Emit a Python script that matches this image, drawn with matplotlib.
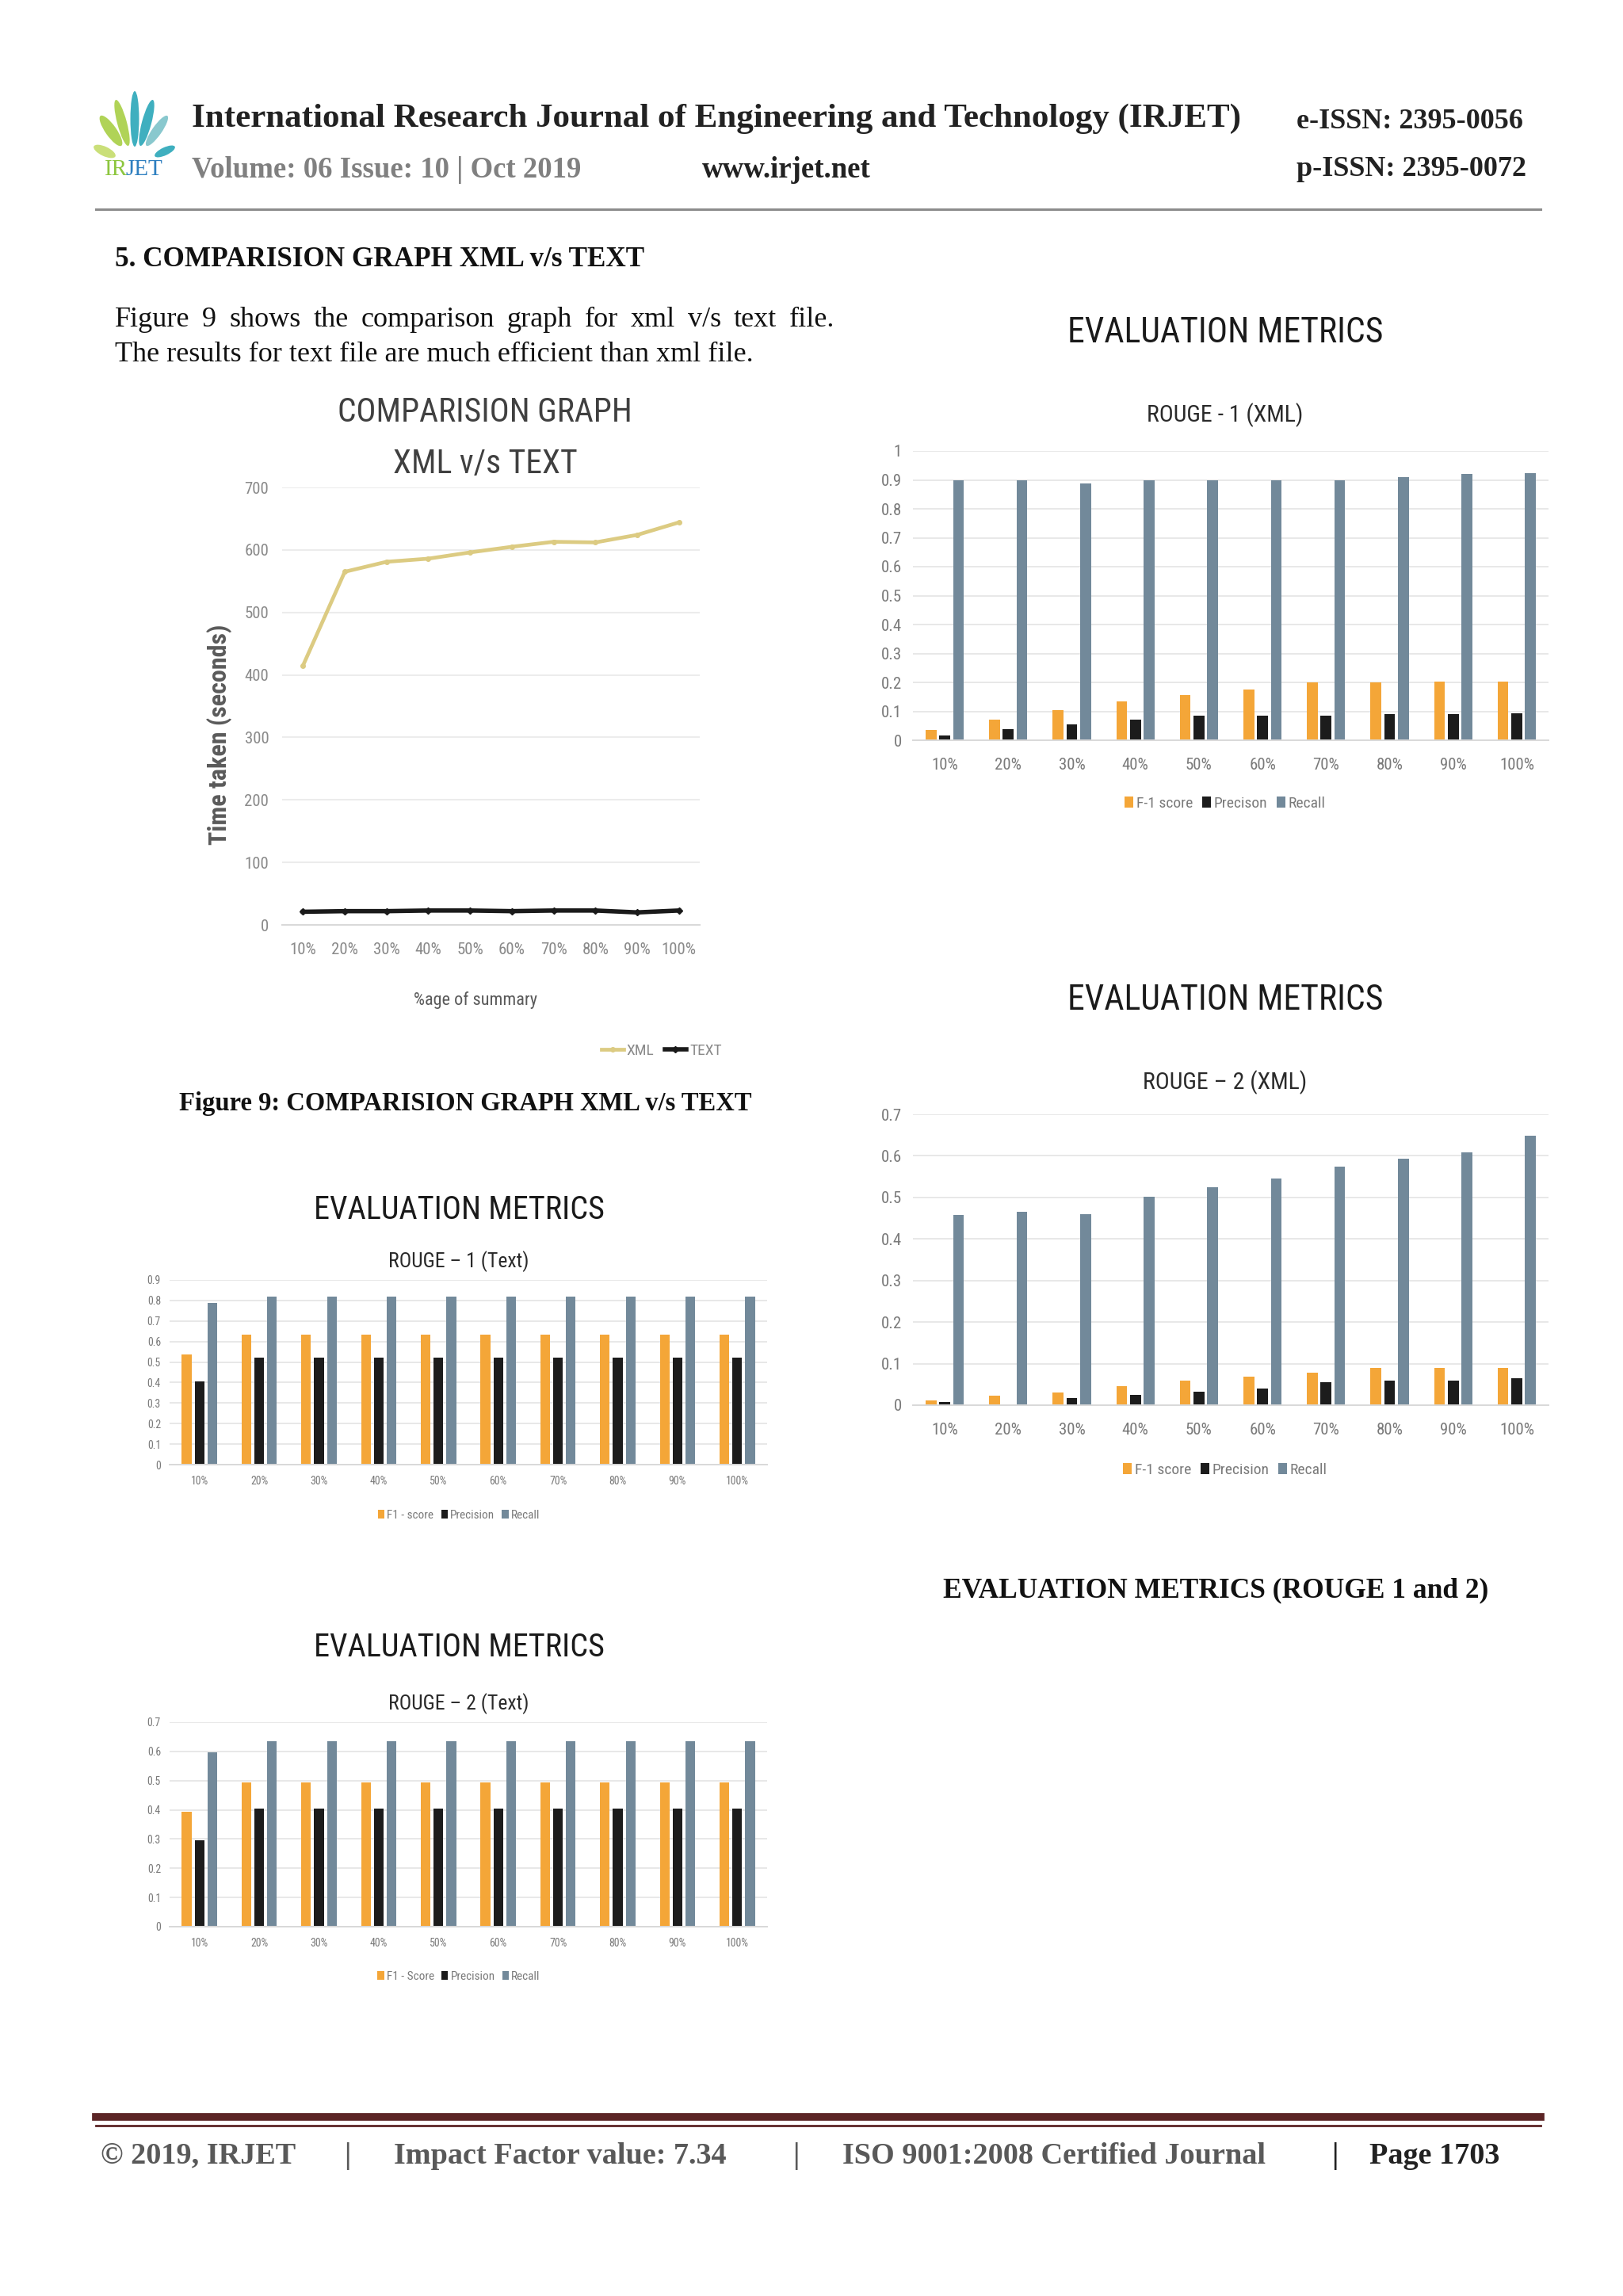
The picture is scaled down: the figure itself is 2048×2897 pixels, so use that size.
import matplotlib
matplotlib.use('Agg')
import numpy as np
import matplotlib.pyplot as plt
from matplotlib import font_manager
from matplotlib.patches import Ellipse

W, H = 2048, 2897

# ---- data ----
categories = ['10%', '20%', '30%', '40%', '50%', '60%', '70%', '80%', '90%', '100%']

# comparison graph (time taken, seconds)
xml_time = [415, 565, 581, 586, 596, 605, 613, 612, 624, 644]
text_time = [21, 22, 22, 23, 23, 22, 23, 23, 20, 23]

# ROUGE-1 (XML)
r1_xml_f1 = [0.035, 0.072, 0.104, 0.134, 0.155, 0.175, 0.199, 0.199, 0.202, 0.202]
r1_xml_prec = [0.017, 0.038, 0.054, 0.071, 0.084, 0.085, 0.085, 0.091, 0.091, 0.093]
r1_xml_rec = [0.898, 0.898, 0.887, 0.898, 0.898, 0.900, 0.900, 0.910, 0.920, 0.924]

# ROUGE-2 (XML)
r2_xml_f1 = [0.012, 0.022, 0.031, 0.046, 0.059, 0.069, 0.078, 0.089, 0.090, 0.090]
r2_xml_prec = [0.007, 0.0, 0.017, 0.025, 0.032, 0.040, 0.055, 0.059, 0.059, 0.065]
r2_xml_rec = [0.458, 0.465, 0.460, 0.501, 0.525, 0.545, 0.575, 0.593, 0.608, 0.649]

# ROUGE-1 (Text)
r1_txt_f1 = [0.536, 0.634, 0.634, 0.634, 0.634, 0.634, 0.634, 0.634, 0.634, 0.634]
r1_txt_prec = [0.404, 0.52, 0.52, 0.52, 0.52, 0.52, 0.52, 0.52, 0.52, 0.52]
r1_txt_rec = [0.787, 0.82, 0.82, 0.82, 0.82, 0.82, 0.82, 0.82, 0.82, 0.82]

# ROUGE-2 (Text)
r2_txt_f1 = [0.394, 0.493, 0.493, 0.493, 0.493, 0.493, 0.493, 0.493, 0.493, 0.493]
r2_txt_prec = [0.295, 0.403, 0.403, 0.403, 0.403, 0.403, 0.403, 0.403, 0.403, 0.403]
r2_txt_rec = [0.597, 0.635, 0.635, 0.635, 0.635, 0.635, 0.635, 0.635, 0.635, 0.635]

ORANGE = '#f4a638'
BLACK = '#1c1c1c'
STEEL = '#72899a'

# ---- fonts ----
names = set(font_manager.get_font_names())
NARROW = 'DejaVu Sans'
for cand in ['Liberation Sans Narrow', 'Roboto Condensed', 'Open Sans Condensed']:
    if cand in names:
        NARROW = cand
        break
STRETCH = 'condensed' if NARROW == 'DejaVu Sans' else 'normal'
SERIF = 'Liberation Serif'

fig = plt.figure(figsize=(W / 100, H / 100), dpi=100)
fig.patch.set_facecolor('white')
renderer = fig.canvas.get_renderer()


def px_axes(left, top, right, bottom):
    return fig.add_axes([left / W, 1 - bottom / H, (right - left) / W, (bottom - top) / H])


def ftext(x, y, s, **kw):
    return fig.text(x / W, 1 - y / H, s, **kw)


def ntext(x, y, s, size, color='#404040', **kw):
    return ftext(x, y, s, family=NARROW, fontstretch=STRETCH, fontsize=size,
                 color=color, ha='center', va='center', **kw)


def justified(x0, x1, y, s, **kw):
    # lay words out so the line fills x0..x1, like the justified paragraph
    words = s.split()
    arts = [ftext(x0, y, w, va='center', **kw) for w in words]
    widths = [a.get_window_extent(renderer).width for a in arts]
    gap = (x1 - x0 - sum(widths)) / (len(words) - 1)
    pos = x0
    for a, w in zip(arts, widths):
        a.set_x(pos / W)
        pos += w + gap


# ---- page header ----
logo = fig.add_axes([110 / W, 1 - 205 / H, 120 / W, 100 / H])
logo.set_xlim(0, 120)
logo.set_ylim(0, 100)
logo.axis('off')
leaves = [(30, 40, 14, 46, 35, '#a8cf45'), (44, 50, 12, 60, 15, '#a8cf45'),
          (60, 55, 11, 70, 0, '#2aa7b8'), (75, 50, 12, 60, -15, '#2aa7b8'),
          (88, 40, 12, 46, -35, '#7cc2c9'), (22, 14, 12, 30, 65, '#c5dc6a'),
          (98, 14, 10, 28, -65, '#2aa7b8')]
for cx, cy, w, h, ang, col in leaves:
    logo.add_patch(Ellipse((cx, cy), w, h, angle=ang, color=col, alpha=0.9, lw=0))

ftext(132, 214, 'IR', family=SERIF, fontsize=21, color='#8dc63f', va='center')
ftext(158, 214, 'JET', family=SERIF, fontsize=21, color='#2e7fc0', va='center')

ftext(242, 150, 'International Research Journal of Engineering and Technology (IRJET)',
      family=SERIF, fontweight='bold', fontsize=31, color='#222222', va='center')
ftext(1636, 153, 'e-ISSN: 2395-0056', family=SERIF, fontweight='bold', fontsize=26,
      color='#222222', va='center')
ftext(242, 214, 'Volume: 06 Issue: 10 | Oct 2019', family=SERIF, fontweight='bold',
      fontsize=26.5, color='#808080', va='center')
ftext(886, 214, 'www.irjet.net', family=SERIF, fontweight='bold', fontsize=26.5,
      color='#222222', va='center')
ftext(1636, 214, 'p-ISSN: 2395-0072', family=SERIF, fontweight='bold', fontsize=26,
      color='#222222', va='center')
fig.add_artist(plt.Line2D([121 / W, 1944 / W], [1 - 264 / H, 1 - 264 / H],
                          color='#8c8c8c', lw=2.2))

ftext(145, 328, '5. COMPARISION GRAPH XML v/s TEXT', family=SERIF, fontweight='bold',
      fontsize=25.3, color='#111111', va='center')
justified(145, 1053, 404, 'Figure 9 shows the comparison graph for xml v/s text file.',
          family=SERIF, fontsize=26, color='#111111')
ftext(145, 447, 'The results for text file are much efficient than xml file.',
      family=SERIF, fontsize=26, color='#111111', va='center')

# ---- comparison line graph ----
ax = px_axes(356, 615, 883, 1167)
x = np.arange(len(categories))
l1, = ax.plot(x, xml_time, color='#dccb82', lw=3.4, marker='o', ms=4, label='XML')
l2, = ax.plot(x, text_time, color='#1a1a1a', lw=4, marker='D', ms=4, label='TEXT')
ax.set_xlim(-0.5, len(categories) - 0.5)
ax.set_ylim(0, 700)
ax.set_yticks(np.arange(0, 701, 100))
ax.set_xticks(x)
ax.set_xticklabels(categories)
ax.grid(axis='y', color='#ececec', lw=1.5)
ax.set_axisbelow(True)
for s in ['top', 'right', 'left']:
    ax.spines[s].set_visible(False)
ax.spines['bottom'].set_color('#d9d9d9')
ax.spines['bottom'].set_linewidth(1.5)
ax.tick_params(length=0, labelsize=15, labelcolor='#8a8a8a', pad=12)
ax.tick_params(axis='x', pad=16)
for t in ax.get_xticklabels() + ax.get_yticklabels():
    t.set_family(NARROW)
    t.set_fontstretch(STRETCH)
ntext(612, 521, 'COMPARISION GRAPH', 30)
ntext(612, 585, 'XML v/s TEXT', 30)
ntext(277, 927, 'Time taken (seconds)', 23, color='#5a5a5a', rotation=90, fontweight='bold')
ntext(600, 1262, '%age of summary', 16, color='#5a5a5a')
ax.legend(handles=[l1, l2], loc='center', bbox_to_anchor=(835 / W, 1 - 1326 / H),
          bbox_transform=fig.transFigure, ncol=2, frameon=False, handlelength=1.4,
          handletextpad=0.2, columnspacing=0.7,
          prop={'family': NARROW, 'stretch': STRETCH, 'size': 14}, labelcolor='#8a8a8a')
ftext(587, 1392, 'Figure 9: COMPARISION GRAPH XML v/s TEXT', family=SERIF,
      fontweight='bold', fontsize=23.5, color='#111111', ha='center', va='center')


# ---- grouped bar charts ----
def bar_chart(box, ymax, f1, prec, rec, leg_labels, title, title_y, sub, sub_y,
              leg_y, tsize, ssize, lsize, legsize, bw, xpad, ypad, shift):
    left, top, right, bottom = box
    a = px_axes(left, top, right, bottom)
    xs = np.arange(len(categories))
    off = 0.215
    b1 = a.bar(xs - off, f1, bw, color=ORANGE, label=leg_labels[0])
    b2 = a.bar(xs, prec, bw, color=BLACK, label=leg_labels[1])
    b3 = a.bar(xs + off, rec, bw, color=STEEL, label=leg_labels[2])
    a.set_xlim(-0.5, len(categories) - 0.5)
    a.set_ylim(0, ymax)
    ticks = np.round(np.arange(0, ymax + 0.001, 0.1), 1)
    a.set_yticks(ticks)
    a.set_yticklabels([f'{v:g}' for v in ticks])
    a.set_xticks(xs)
    a.set_xticklabels(categories)
    a.grid(axis='y', color='#e8e8e8', lw=1.4)
    a.set_axisbelow(True)
    for s in ['top', 'right', 'left']:
        a.spines[s].set_visible(False)
    a.spines['bottom'].set_color('#d9d9d9')
    a.spines['bottom'].set_linewidth(1.4)
    a.tick_params(length=0, labelsize=lsize, labelcolor='#7a7a7a')
    a.tick_params(axis='x', pad=xpad)
    a.tick_params(axis='y', pad=ypad)
    for t in a.get_xticklabels() + a.get_yticklabels():
        t.set_family(NARROW)
        t.set_fontstretch(STRETCH)
    cx = (left + right) / 2 - shift
    ntext(cx, title_y, title, tsize, color='#1a1a1a')
    ntext(cx, sub_y, sub, ssize, color='#2a2a2a')
    a.legend(handles=[b1, b2, b3], loc='center',
             bbox_to_anchor=(cx / W, 1 - leg_y / H), bbox_transform=fig.transFigure,
             ncol=3, frameon=False, handlelength=0.55, handleheight=0.7,
             handletextpad=0.2, columnspacing=0.6,
             prop={'family': NARROW, 'stretch': STRETCH, 'size': legsize},
             labelcolor='#7a7a7a')
    return a


bar_chart((1152, 569, 1954, 934), 1.0, r1_xml_f1, r1_xml_prec, r1_xml_rec,
          ['F-1 score', 'Precison', 'Recall'], 'EVALUATION METRICS', 420,
          'ROUGE - 1 (XML)', 524, 1014, 31.5, 21.5, 15, 14, 0.17, 16, 10, 7)

bar_chart((1152, 1406, 1954, 1773), 0.7, r2_xml_f1, r2_xml_prec, r2_xml_rec,
          ['F-1 score', 'Precision', 'Recall'], 'EVALUATION METRICS', 1262,
          'ROUGE \u2013 2 (XML)', 1366, 1855, 31.5, 21.5, 15, 14, 0.17, 16, 10, 7)

bar_chart((214, 1615, 968, 1848), 0.9, r1_txt_f1, r1_txt_prec, r1_txt_rec,
          ['F1 - score', 'Precision', 'Recall'], 'EVALUATION METRICS', 1526,
          'ROUGE \u2013 1 (Text)', 1592, 1912, 29, 18.5, 10, 11, 0.16, 10, 8, 12)

bar_chart((214, 2173, 968, 2431), 0.7, r2_txt_f1, r2_txt_prec, r2_txt_rec,
          ['F1 - Score', 'Precision', 'Recall'], 'EVALUATION METRICS', 2078,
          'ROUGE \u2013 2 (Text)', 2150, 2494, 29, 18.5, 10, 11, 0.16, 10, 8, 12)

ftext(1534, 2007, 'EVALUATION METRICS (ROUGE 1 and 2)', family=SERIF,
      fontweight='bold', fontsize=25.5, color='#111111', ha='center', va='center')

# ---- footer ----
fig.add_artist(plt.Line2D([121 / W, 1944 / W], [1 - 2671 / H, 1 - 2671 / H],
                          color='#5c2526', lw=7))
fig.add_artist(plt.Line2D([121 / W, 1944 / W], [1 - 2682 / H, 1 - 2682 / H],
                          color='#5c2526', lw=2))
foot = [(127, '\u00a9 2019, IRJET', '#595959'), (434, '|', '#595959'),
        (497, 'Impact Factor value: 7.34', '#595959'), (1000, '|', '#595959'),
        (1063, 'ISO 9001:2008 Certified Journal', '#595959'), (1680, '|', '#222222'),
        (1728, 'Page 1703', '#222222')]
for fx, s, col in foot:
    ftext(fx, 2720, s, family=SERIF, fontweight='bold', fontsize=27.5, color=col,
          va='center')

fig.savefig('out.png', dpi=100, facecolor='white')
